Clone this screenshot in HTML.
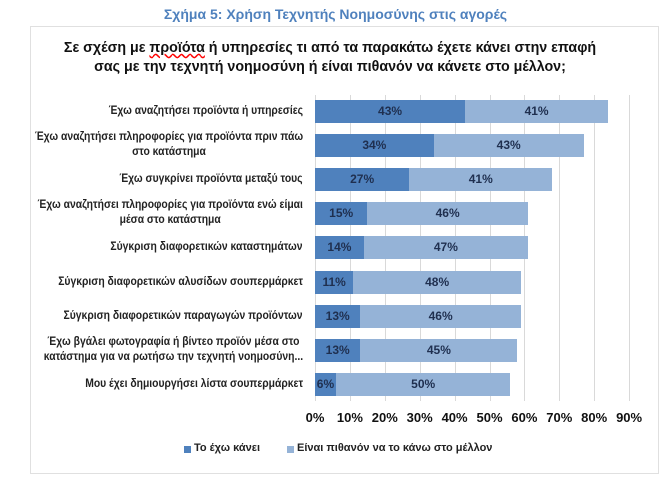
<!DOCTYPE html>
<html><head><meta charset="utf-8"><style>
body{margin:0;width:671px;height:482px;background:#fff;font-family:"Liberation Sans",sans-serif;position:relative;overflow:hidden}
.t{position:absolute;white-space:nowrap}
.lab{position:absolute;right:368px;text-align:right;font-size:11.5px;font-weight:bold;color:#222;line-height:15px;transform:scaleX(0.9);transform-origin:right center;white-space:nowrap}
.lab.c{text-align:center}
.bar{position:absolute;height:23px}
.v{position:absolute;font-size:12px;font-weight:bold;color:#1f2f4f;text-align:center;line-height:23px}
.g{position:absolute;top:95px;height:306px;width:1px;background:#d9d9d9}
.ax{position:absolute;top:410px;font-size:13px;font-weight:bold;color:#111;width:40px;text-align:center}
</style></head><body>
<div class="t" style="left:0;width:671px;text-align:center;top:6px;font-size:14px;font-weight:bold;color:#4f81bd">Σχήμα 5: Χρήση Τεχνητής Νοημοσύνης στις αγορές</div>
<div style="position:absolute;left:30px;top:26px;width:627px;height:446px;border:1px solid #e0e0e0"></div>
<div class="t" style="left:0;width:660px;text-align:center;top:38px;font-size:15px;font-weight:bold;color:#111;line-height:19px;transform:scaleX(0.95)">Σε σχέση με <span style="text-decoration:underline wavy red">προϊότα</span> ή υπηρεσίες τι από τα παρακάτω έχετε κάνει στην επαφή<br>σας με την τεχνητή νοημοσύνη ή είναι πιθανόν να κάνετε στο μέλλον;</div>
<div class="g" style="left:315px"></div><div class="g" style="left:350px"></div><div class="g" style="left:385px"></div><div class="g" style="left:420px"></div><div class="g" style="left:455px"></div><div class="g" style="left:490px"></div><div class="g" style="left:524px"></div><div class="g" style="left:559px"></div><div class="g" style="left:594px"></div><div class="g" style="left:629px"></div>
<div id="c"></div>
<script>
var d=[["Έχω αναζητήσει προϊόντα ή υπηρεσίες",43,41],["Έχω αναζητήσει πληροφορίες για προϊόντα πριν πάω<br>στο κατάστημα",34,43],["Έχω συγκρίνει προϊόντα μεταξύ τους",27,41],["Έχω αναζητήσει πληροφορίες για προϊόντα ενώ είμαι<br>μέσα στο κατάστημα",15,46],["Σύγκριση διαφορετικών καταστημάτων",14,47],["Σύγκριση διαφορετικών αλυσίδων σουπερμάρκετ",11,48],["Σύγκριση διαφορετικών παραγωγών προϊόντων",13,46],["Έχω βγάλει φωτογραφία ή βίντεο προϊόν μέσα στο<br>κατάστημα για να ρωτήσω την τεχνητή νοημοσύνη...",13,45],["Μου έχει δημιουργήσει λίστα σουπερμάρκετ",6,50]];
var h="",s=3.49;
d.forEach(function(r,i){var y=100+i*34.1,a=r[1]*s,b=r[2]*s;var two=r[0].indexOf("<br>")>0;
h+='<div class="lab'+(two?' c':'')+'" style="top:'+(two?y-4:y+4)+'px">'+r[0]+'</div>';
h+='<div class="bar" style="left:315px;top:'+y+'px;width:'+a+'px;background:#4f81bd"></div>';
h+='<div class="bar" style="left:'+(315+a)+'px;top:'+y+'px;width:'+b+'px;background:#95b3d7"></div>';
h+='<div class="v" style="left:315px;top:'+y+'px;width:'+Math.max(a,20)+'px">'+r[1]+'%</div>';
h+='<div class="v" style="left:'+(315+a)+'px;top:'+y+'px;width:'+b+'px">'+r[2]+'%</div>';});
for(var k=0;k<10;k++)h+='<div class="ax" style="left:'+(315+k*34.9-20)+'px">'+(k*10)+'%</div>';
document.getElementById("c").innerHTML=h;
</script>
<div style="position:absolute;left:184px;top:446px;width:7px;height:7px;background:#4f81bd"></div>
<div class="t" style="left:194px;top:442px;font-size:11px;font-weight:bold;color:#222">Το έχω κάνει</div>
<div style="position:absolute;left:287px;top:446px;width:7px;height:7px;background:#95b3d7"></div>
<div class="t" style="left:297px;top:442px;font-size:11px;font-weight:bold;color:#222">Είναι πιθανόν να το κάνω στο μέλλον</div>
</body></html>
